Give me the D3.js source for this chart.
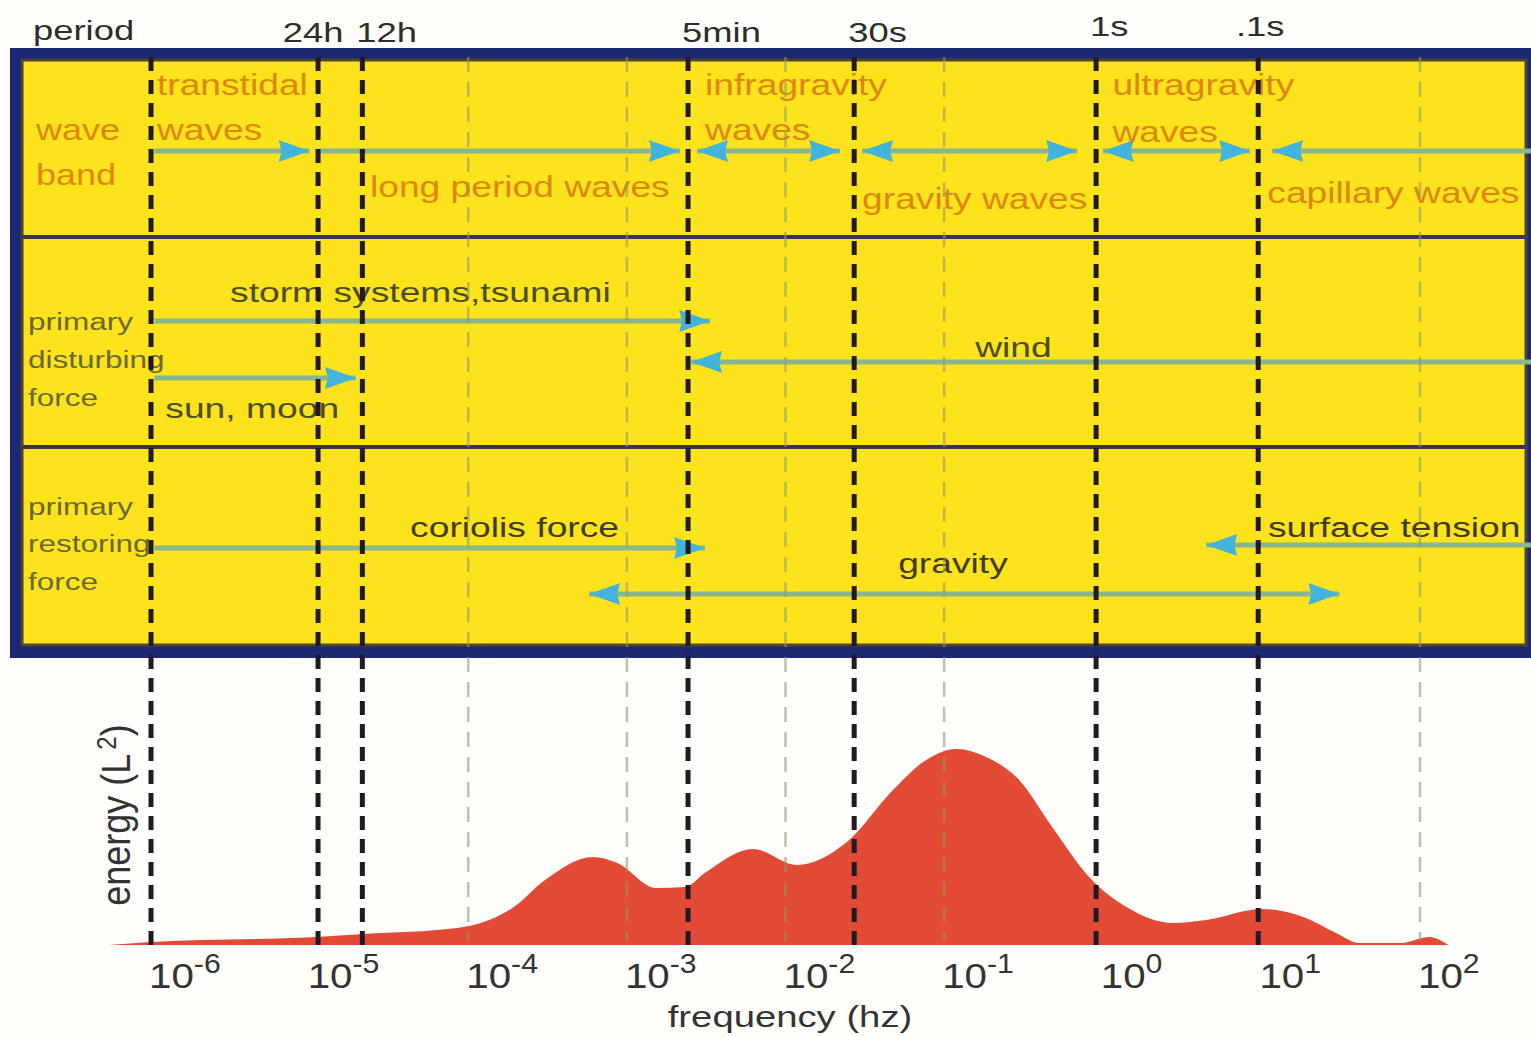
<!DOCTYPE html>
<html><head><meta charset="utf-8">
<script src="https://cdn.jsdelivr.net/npm/d3@7"></script>
<style>html,body{margin:0;padding:0;background:#fff;} svg{display:block;}</style>
</head><body>
<svg id="chart" width="1531" height="1037"></svg>
<script>
// ================= DATA =================
// decade ticks of the frequency axis (Hz)
const decades = [1e-6, 1e-5, 1e-4, 1e-3, 1e-2, 1e-1, 1e0, 1e1, 1e2];
const decadeExponents = ["-6", "-5", "-4", "-3", "-2", "-1", "0", "1", "2"];
// light grid decades (others are hidden behind period lines)
const gridFreqs = [1e-4, 1e-3, 1e-2, 1e-1, 1e2];
// period markers (bold dashed lines), frequency as drawn in the picture
const periodLabels = ["", "24h", "12h", "5min", "30s", "1s", ".1s"];
const periodFreqs = [1e-6, 1.13e-5, 2.15e-5, 2.43e-3, 2.71e-2, 0.908, 9.55];
// energy spectrum (relative energy, peak ~100)
const energyFreq = [5.4e-7, 1.0e-6, 1.1e-5, 2.2e-5, 8.5e-5, 1.5e-4, 1.9e-4, 3.05e-4, 6.1e-4, 8.7e-4, 1.53e-3, 2.33e-3, 3.1e-3, 6.25e-3, 1.18e-2, 2.44e-2, 4.76e-2, 7.7e-2, 0.119, 0.184, 0.297, 0.48, 0.82, 1.41, 2.78, 4.49, 10.1, 18.4, 29.6, 41.4, 76, 114, 151];
const energyValue = [0, 1.5, 4, 5.5, 8.5, 14, 18.5, 32.5, 44, 41, 28.5, 29, 36, 48, 40, 51.5, 77.5, 92.5, 98, 94, 82.5, 59, 34, 19, 11, 12.5, 18, 14, 6, 1, 1, 4, 0];
// row titles
const rowTitles = [["wave", "band"], ["primary", "disturbing", "force"], ["primary", "restoring", "force"]];
// frequency ranges (Hz) shown as arrows; heads: start / end / both
const waveBands = [
  {label: ["transtidal", "waves"], from: 1.05e-6, to: 1.0e-5, heads: "end", labelF: 1.09e-6},
  {label: ["long period waves"], from: 1.13e-5, to: 2.16e-3, heads: "end", labelF: 2.4e-5},
  {label: ["infragravity", "waves"], from: 2.77e-3, to: 2.21e-2, heads: "both", labelF: 3.11e-3},
  {label: ["gravity waves"], from: 3.04e-2, to: 0.69, heads: "both", labelF: 3.04e-2},
  {label: ["ultragravity", "waves"], from: 1.0, to: 8.5, heads: "both", labelF: 1.15},
  {label: ["capillary waves"], from: 11.7, to: 510, heads: "start", labelF: 10.9}
];
const disturbingForces = [
  {label: "storm systems,tsunami", from: 1.05e-6, to: 3.35e-3, heads: "end", labelF: 3.15e-6},
  {label: "wind", from: 2.54e-3, to: 510, heads: "start", labelF: 0.157},
  {label: "sun, moon", from: 1.05e-6, to: 1.96e-5, heads: "end", labelF: 1.23e-6}
];
const restoringForces = [
  {label: "coriolis force", from: 1.05e-6, to: 3.11e-3, heads: "end", labelF: 4.3e-5},
  {label: "surface tension", from: 4.49, to: 510, heads: "start", labelF: 11.0},
  {label: "gravity", from: 5.78e-4, to: 31.0, heads: "both", labelF: 5.13e-2}
];

// ================= LAYOUT / STYLE =================
const FONT = "'Liberation Sans', Arial, Helvetica, sans-serif";
const rowEdges = [60, 237, 447, 645];
const waveArrowY = [151, 151, 151, 151, 151, 151];
const waveLabelY = [[95, 140], [197], [95, 140], [209], [95, 142], [203]];
const distArrowY = [321, 362, 378];
const distLabelY = [302, 357, 418];
const restArrowY = [548, 545, 594];
const restLabelY = [537, 537, 573];
const rowTitleY = [[140, 185], [330, 368, 406], [515, 552, 590]];
const rowTitleX = [36, 28, 28];

const svg = d3.select("#chart");
const x = d3.scaleLog().domain([1e-6, 1e2]).range([151, 1420]);
const y = d3.scaleLinear().domain([0, 100]).range([945, 745]);
const lineTop = 57, baseY = 945;

svg.append("rect").attr("width", 1531).attr("height", 1037).attr("fill", "#fffefb");

function txt(g, px, py, s, size, sx, fill, anchor) {
  return g.append("text")
    .attr("transform", `translate(${px},${py}) scale(${sx},1)`)
    .attr("font-family", FONT).attr("font-size", size)
    .attr("fill", fill).attr("text-anchor", anchor || "start")
    .text(s);
}

// ---- yellow box ----
const box = svg.append("g");
box.append("rect").attr("x", 10).attr("y", 48).attr("width", 1560).attr("height", 610).attr("fill", "#1d2873");
box.append("rect").attr("x", 22).attr("y", 60).attr("width", 1504).attr("height", 585)
  .attr("fill", "#fde31b").attr("stroke", "#4f4430").attr("stroke-width", 3);
[rowEdges[1], rowEdges[2]].forEach(v => {
  box.append("line").attr("x1", 22).attr("x2", 1526).attr("y1", v).attr("y2", v)
    .attr("stroke", "#3c3448").attr("stroke-width", 4);
});

// ---- energy area ----
const energy = energyFreq.map((f, i) => ({f, e: energyValue[i]}));
svg.append("path").datum(energy)
  .attr("fill", "#e34a35")
  .attr("d", d3.area().x(d => x(d.f)).y0(y(0)).y1(d => y(d.e)).curve(d3.curveMonotoneX));

// ---- arrows ----
const arrows = svg.append("g");
function drawArrow(a, ay) {
  const x1 = Math.min(x(a.from), 1545), x2 = Math.min(x(a.to), 1545);
  arrows.append("line").attr("x1", x1).attr("x2", x2).attr("y1", ay).attr("y2", ay)
    .attr("stroke", "#88b68f").attr("stroke-width", 5);
  const L = 31, Hh = 11;
  const headPath = (tip, dir) => `M${tip},${ay}L${tip - dir * L},${ay - Hh}L${tip - dir * L + dir * 3},${ay}L${tip - dir * L},${ay + Hh}Z`;
  if (a.heads === "end" || a.heads === "both")
    arrows.append("path").attr("d", headPath(x2, 1)).attr("fill", "#42b3da");
  if (a.heads === "start" || a.heads === "both")
    arrows.append("path").attr("d", headPath(x1, -1)).attr("fill", "#42b3da");
}
waveBands.forEach((a, i) => drawArrow(a, waveArrowY[i]));
disturbingForces.forEach((a, i) => drawArrow(a, distArrowY[i]));
restoringForces.forEach((a, i) => drawArrow(a, restArrowY[i]));

// ---- texts in rows ----
const labels = svg.append("g");
rowTitles.forEach((lines, r) => {
  lines.forEach((s, k) => {
    if (r === 0) txt(labels, rowTitleX[r], rowTitleY[r][k], s, 30, 1.2, "#dd8612");
    else txt(labels, rowTitleX[r], rowTitleY[r][k], s, 23, 1.37, "#6b6838");
  });
});
waveBands.forEach((a, i) => {
  a.label.forEach((s, k) => txt(labels, x(a.labelF), waveLabelY[i][k], s, 30, 1.24, "#dd8612"));
});
disturbingForces.forEach((a, i) => txt(labels, x(a.labelF), distLabelY[i], a.label, 28, 1.33, "#4b4d22"));
restoringForces.forEach((a, i) => txt(labels, x(a.labelF), restLabelY[i], a.label, 28, 1.33, "#3f3b1a"));

// ---- grid lines ----
const grid = svg.append("g");
grid.selectAll("line.thin").data(gridFreqs).join("line").attr("class", "thin")
  .attr("x1", d => x(d)).attr("x2", d => x(d)).attr("y1", lineTop).attr("y2", baseY - 4)
  .attr("stroke", "#8c9a70").attr("stroke-opacity", 0.6).attr("stroke-width", 2.5)
  .attr("stroke-dasharray", "15,10");
grid.selectAll("line.bold").data(periodFreqs).join("line").attr("class", "bold")
  .attr("x1", d => x(d)).attr("x2", d => x(d)).attr("y1", lineTop).attr("y2", baseY)
  .attr("stroke", "#211a24").attr("stroke-width", 5)
  .attr("stroke-dasharray", "14,9");

// ---- period labels (top) ----
const headerG = svg.append("g");
txt(headerG, 33, 40, "period", 28, 1.3, "#2d2d2d");
periodLabels.forEach((s, i) => {
  if (!s) return;
  const anchor = (s === "24h" || s === ".1s") ? "middle" : "start";
  const dx = anchor === "middle" ? (s === "24h" ? -5 : 2) : -6;
  const py = (s === "1s" || s === ".1s") ? 36 : 42;
  txt(headerG, x(periodFreqs[i]) + dx, py, s, 28, 1.3, "#2d2d2d", anchor);
});

// ---- x tick labels ----
const ticksG = svg.append("g");
decades.forEach((d, i) => {
  const t = ticksG.append("text")
    .attr("transform", `translate(${x(d) - 2},988) scale(1.12,1)`)
    .attr("font-family", FONT).attr("fill", "#333");
  t.append("tspan").attr("font-size", 36).text("10");
  t.append("tspan").attr("font-size", 27).attr("dy", -15).text(decadeExponents[i]);
});
txt(ticksG, 790, 1027, "frequency (hz)", 29, 1.32, "#333", "middle");

// y label
const yl = svg.append("text")
  .attr("transform", "translate(130,815) scale(1.15,1) rotate(-90)")
  .attr("font-family", FONT).attr("font-size", 36).attr("fill", "#333")
  .attr("text-anchor", "middle");
yl.append("tspan").text("energy (L");
yl.append("tspan").attr("font-size", 24).attr("dx", 4).attr("dy", -12).text("2");
yl.append("tspan").attr("dy", 12).text(")");
</script>
</body></html>
